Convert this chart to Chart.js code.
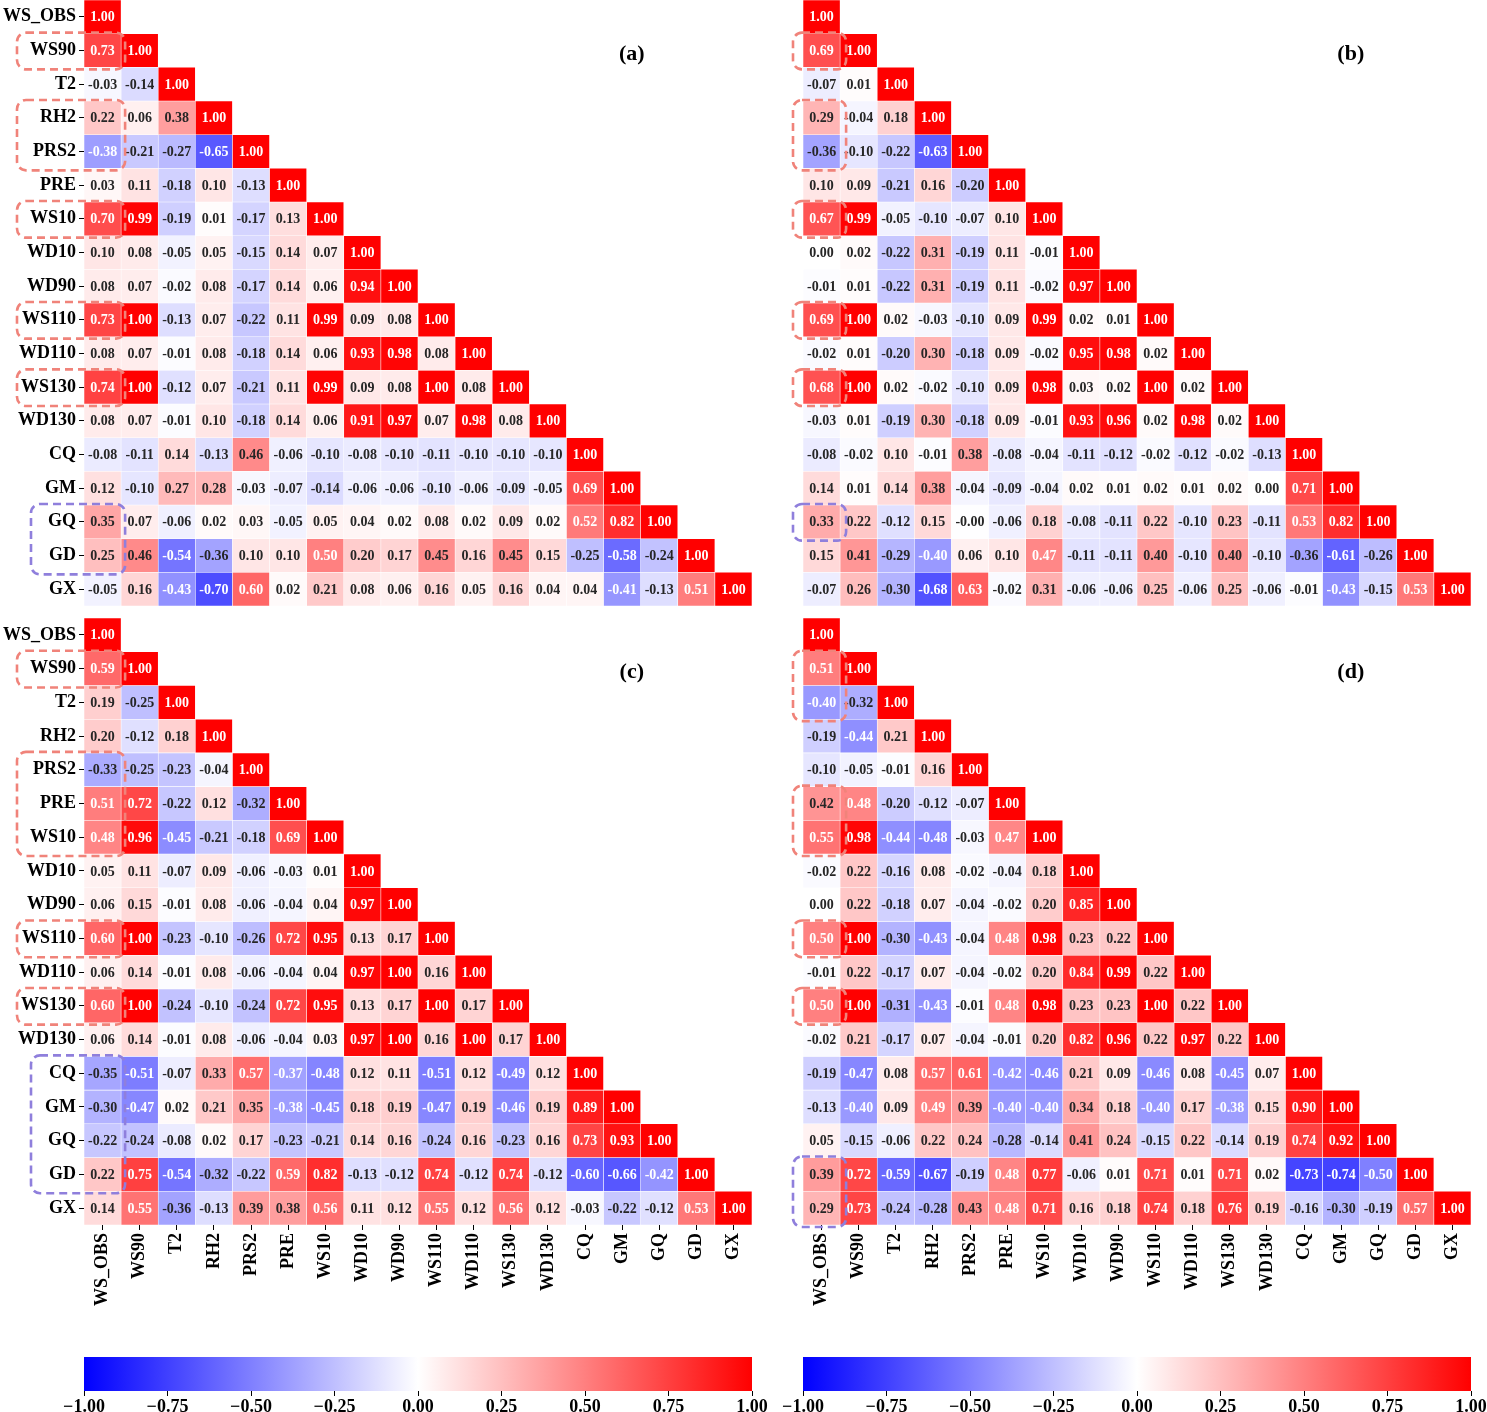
<!DOCTYPE html>
<html>
<head>
<meta charset="utf-8">
<script src="https://cdn.jsdelivr.net/npm/chart.js@4.4.1/dist/chart.umd.min.js"></script>
<style>
  html, body { margin: 0; padding: 0; background: #fff; overflow: hidden; }
  body { width: 1487px; height: 1412px; position: relative; }
  canvas { position: absolute; }
</style>
</head>
<body>
<canvas id="pa" width="760" height="612" style="left:0;top:0"></canvas>
<canvas id="pb" width="727" height="612" style="left:760px;top:0"></canvas>
<canvas id="pc" width="760" height="705" style="left:0;top:612px"></canvas>
<canvas id="pd" width="727" height="705" style="left:760px;top:612px"></canvas>
<canvas id="cbc" width="775" height="62" style="left:0;top:1350px"></canvas>
<canvas id="cbd" width="727" height="62" style="left:760px;top:1350px"></canvas>
<script>
// variable names (rows top to bottom, columns left to right)
const labels = ['WS_OBS', 'WS90', 'T2', 'RH2', 'PRS2', 'PRE', 'WS10', 'WD10', 'WD90',
  'WS110', 'WD110', 'WS130', 'WD130', 'CQ', 'GM', 'GQ', 'GD', 'GX'];

// lower triangles of the correlation matrices
const corrA = [
  [1.00],
  [0.73, 1.00],
  [-0.03, -0.14, 1.00],
  [0.22, 0.06, 0.38, 1.00],
  [-0.38, -0.21, -0.27, -0.65, 1.00],
  [0.03, 0.11, -0.18, 0.10, -0.13, 1.00],
  [0.70, 0.99, -0.19, 0.01, -0.17, 0.13, 1.00],
  [0.10, 0.08, -0.05, 0.05, -0.15, 0.14, 0.07, 1.00],
  [0.08, 0.07, -0.02, 0.08, -0.17, 0.14, 0.06, 0.94, 1.00],
  [0.73, 1.00, -0.13, 0.07, -0.22, 0.11, 0.99, 0.09, 0.08, 1.00],
  [0.08, 0.07, -0.01, 0.08, -0.18, 0.14, 0.06, 0.93, 0.98, 0.08, 1.00],
  [0.74, 1.00, -0.12, 0.07, -0.21, 0.11, 0.99, 0.09, 0.08, 1.00, 0.08, 1.00],
  [0.08, 0.07, -0.01, 0.10, -0.18, 0.14, 0.06, 0.91, 0.97, 0.07, 0.98, 0.08, 1.00],
  [-0.08, -0.11, 0.14, -0.13, 0.46, -0.06, -0.10, -0.08, -0.10, -0.11, -0.10, -0.10, -0.10, 1.00],
  [0.12, -0.10, 0.27, 0.28, -0.03, -0.07, -0.14, -0.06, -0.06, -0.10, -0.06, -0.09, -0.05, 0.69, 1.00],
  [0.35, 0.07, -0.06, 0.02, 0.03, -0.05, 0.05, 0.04, 0.02, 0.08, 0.02, 0.09, 0.02, 0.52, 0.82, 1.00],
  [0.25, 0.46, -0.54, -0.36, 0.10, 0.10, 0.50, 0.20, 0.17, 0.45, 0.16, 0.45, 0.15, -0.25, -0.58, -0.24, 1.00],
  [-0.05, 0.16, -0.43, -0.70, 0.60, 0.02, 0.21, 0.08, 0.06, 0.16, 0.05, 0.16, 0.04, 0.04, -0.41, -0.13, 0.51, 1.00]
];

const corrB = [
  [1.00],
  [0.69, 1.00],
  [-0.07, 0.01, 1.00],
  [0.29, -0.04, 0.18, 1.00],
  [-0.36, -0.10, -0.22, -0.63, 1.00],
  [0.10, 0.09, -0.21, 0.16, -0.20, 1.00],
  [0.67, 0.99, -0.05, -0.10, -0.07, 0.10, 1.00],
  [0.00, 0.02, -0.22, 0.31, -0.19, 0.11, -0.01, 1.00],
  [-0.01, 0.01, -0.22, 0.31, -0.19, 0.11, -0.02, 0.97, 1.00],
  [0.69, 1.00, 0.02, -0.03, -0.10, 0.09, 0.99, 0.02, 0.01, 1.00],
  [-0.02, 0.01, -0.20, 0.30, -0.18, 0.09, -0.02, 0.95, 0.98, 0.02, 1.00],
  [0.68, 1.00, 0.02, -0.02, -0.10, 0.09, 0.98, 0.03, 0.02, 1.00, 0.02, 1.00],
  [-0.03, 0.01, -0.19, 0.30, -0.18, 0.09, -0.01, 0.93, 0.96, 0.02, 0.98, 0.02, 1.00],
  [-0.08, -0.02, 0.10, -0.01, 0.38, -0.08, -0.04, -0.11, -0.12, -0.02, -0.12, -0.02, -0.13, 1.00],
  [0.14, 0.01, 0.14, 0.38, -0.04, -0.09, -0.04, 0.02, 0.01, 0.02, 0.01, 0.02, 0.00, 0.71, 1.00],
  [0.33, 0.22, -0.12, 0.15, -0.004, -0.06, 0.18, -0.08, -0.11, 0.22, -0.10, 0.23, -0.11, 0.53, 0.82, 1.00],
  [0.15, 0.41, -0.29, -0.40, 0.06, 0.10, 0.47, -0.11, -0.11, 0.40, -0.10, 0.40, -0.10, -0.36, -0.61, -0.26, 1.00],
  [-0.07, 0.26, -0.30, -0.68, 0.63, -0.02, 0.31, -0.06, -0.06, 0.25, -0.06, 0.25, -0.06, -0.01, -0.43, -0.15, 0.53, 1.00]
];

const corrC = [
  [1.00],
  [0.59, 1.00],
  [0.19, -0.25, 1.00],
  [0.20, -0.12, 0.18, 1.00],
  [-0.33, -0.25, -0.23, -0.04, 1.00],
  [0.51, 0.72, -0.22, 0.12, -0.32, 1.00],
  [0.48, 0.96, -0.45, -0.21, -0.18, 0.69, 1.00],
  [0.05, 0.11, -0.07, 0.09, -0.06, -0.03, 0.01, 1.00],
  [0.06, 0.15, -0.01, 0.08, -0.06, -0.04, 0.04, 0.97, 1.00],
  [0.60, 1.00, -0.23, -0.10, -0.26, 0.72, 0.95, 0.13, 0.17, 1.00],
  [0.06, 0.14, -0.01, 0.08, -0.06, -0.04, 0.04, 0.97, 1.00, 0.16, 1.00],
  [0.60, 1.00, -0.24, -0.10, -0.24, 0.72, 0.95, 0.13, 0.17, 1.00, 0.17, 1.00],
  [0.06, 0.14, -0.01, 0.08, -0.06, -0.04, 0.03, 0.97, 1.00, 0.16, 1.00, 0.17, 1.00],
  [-0.35, -0.51, -0.07, 0.33, 0.57, -0.37, -0.48, 0.12, 0.11, -0.51, 0.12, -0.49, 0.12, 1.00],
  [-0.30, -0.47, 0.02, 0.21, 0.35, -0.38, -0.45, 0.18, 0.19, -0.47, 0.19, -0.46, 0.19, 0.89, 1.00],
  [-0.22, -0.24, -0.08, 0.02, 0.17, -0.23, -0.21, 0.14, 0.16, -0.24, 0.16, -0.23, 0.16, 0.73, 0.93, 1.00],
  [0.22, 0.75, -0.54, -0.32, -0.22, 0.59, 0.82, -0.13, -0.12, 0.74, -0.12, 0.74, -0.12, -0.60, -0.66, -0.42, 1.00],
  [0.14, 0.55, -0.36, -0.13, 0.39, 0.38, 0.56, 0.11, 0.12, 0.55, 0.12, 0.56, 0.12, -0.03, -0.22, -0.12, 0.53, 1.00]
];

const corrD = [
  [1.00],
  [0.51, 1.00],
  [-0.40, -0.32, 1.00],
  [-0.19, -0.44, 0.21, 1.00],
  [-0.10, -0.05, -0.01, 0.16, 1.00],
  [0.42, 0.48, -0.20, -0.12, -0.07, 1.00],
  [0.55, 0.98, -0.44, -0.48, -0.03, 0.47, 1.00],
  [-0.02, 0.22, -0.16, 0.08, -0.02, -0.04, 0.18, 1.00],
  [0.00, 0.22, -0.18, 0.07, -0.04, -0.02, 0.20, 0.85, 1.00],
  [0.50, 1.00, -0.30, -0.43, -0.04, 0.48, 0.98, 0.23, 0.22, 1.00],
  [-0.01, 0.22, -0.17, 0.07, -0.04, -0.02, 0.20, 0.84, 0.99, 0.22, 1.00],
  [0.50, 1.00, -0.31, -0.43, -0.01, 0.48, 0.98, 0.23, 0.23, 1.00, 0.22, 1.00],
  [-0.02, 0.21, -0.17, 0.07, -0.04, -0.01, 0.20, 0.82, 0.96, 0.22, 0.97, 0.22, 1.00],
  [-0.19, -0.47, 0.08, 0.57, 0.61, -0.42, -0.46, 0.21, 0.09, -0.46, 0.08, -0.45, 0.07, 1.00],
  [-0.13, -0.40, 0.09, 0.49, 0.39, -0.40, -0.40, 0.34, 0.18, -0.40, 0.17, -0.38, 0.15, 0.90, 1.00],
  [0.05, -0.15, -0.06, 0.22, 0.24, -0.28, -0.14, 0.41, 0.24, -0.15, 0.22, -0.14, 0.19, 0.74, 0.92, 1.00],
  [0.39, 0.72, -0.59, -0.67, -0.19, 0.48, 0.77, -0.06, 0.01, 0.71, 0.01, 0.71, 0.02, -0.73, -0.74, -0.50, 1.00],
  [0.29, 0.73, -0.24, -0.28, 0.43, 0.48, 0.71, 0.16, 0.18, 0.74, 0.18, 0.76, 0.19, -0.16, -0.30, -0.19, 0.57, 1.00]
];

// highlighted row groups: [first row, last row, group]
const boxesA = [[1, 1, 'pos'], [3, 4, 'pos'], [6, 6, 'pos'], [9, 9, 'pos'], [11, 11, 'pos'], [15, 16, 'alt']];
const boxesB = [[1, 1, 'pos'], [3, 4, 'pos'], [6, 6, 'pos'], [9, 9, 'pos'], [11, 11, 'pos'], [15, 15, 'alt']];
const boxesC = [[1, 1, 'pos'], [4, 6, 'pos'], [9, 9, 'pos'], [11, 11, 'pos'], [13, 16, 'alt']];
const boxesD = [[1, 2, 'pos'], [5, 6, 'pos'], [9, 9, 'pos'], [11, 11, 'pos'], [16, 17, 'alt']];

const cbarTicks = [-1, -0.75, -0.5, -0.25, 0, 0.25, 0.5, 0.75, 1];

const SERIF = "'Liberation Serif', 'Times New Roman', 'DejaVu Serif', serif";
Chart.defaults.font.family = SERIF;
Chart.defaults.color = '#000';
Chart.defaults.animation = false;

// blue-white-red colormap
function bwr(v) {
  if (v < 0) { const t = 1 + v; return [t, t, 1]; }
  return [1, 1 - v, 1 - v];
}
function rgbStr(c) {
  return 'rgb(' + c.map(x => Math.round(x * 255)).join(',') + ')';
}
function textColor(v) {
  const lin = bwr(v).map(c => c <= 0.03928 ? c / 12.92 : Math.pow((c + 0.055) / 1.055, 2.4));
  const lum = 0.2126 * lin[0] + 0.7152 * lin[1] + 0.0722 * lin[2];
  return lum > 0.408 ? '#262626' : '#ffffff';
}

function makePanel(id, corr, boxes, tag, left, bottomAxis) {
  const overlay = {
    id: 'overlay',
    afterDatasetsDraw(chart) {
      const ctx = chart.ctx;
      ctx.save();
      ctx.font = 'bold 14px ' + SERIF;
      ctx.textAlign = 'center';
      ctx.textBaseline = 'middle';
      chart.data.datasets.forEach((ds, i) => {
        chart.getDatasetMeta(i).data.forEach((el, j) => {
          const v = ds.values[j];
          ctx.fillStyle = textColor(v);
          ctx.fillText(v.toFixed(2), el.x, (el.y + el.base) / 2 + 1);
        });
      });
      ctx.restore();
    },
    afterDraw(chart) {
      const ctx = chart.ctx;
      const ca = chart.chartArea;
      const xs = chart.scales.x, ys = chart.scales.y;
      const cellW = xs.getPixelForValue(1) - xs.getPixelForValue(0);
      const colRight = xs.getPixelForValue(0) + cellW / 2;
      ctx.save();
      ctx.lineWidth = 2.6;
      ctx.setLineDash([8, 5]);
      boxes.forEach(([r0, r1, kind]) => {
        const top = ys.getPixelForValue(r0 - 0.5) - 1;
        const bot = ys.getPixelForValue(r1 + 0.5) + 2;
        let x0;
        if (left) x0 = kind === 'pos' ? ca.left - 67 : ca.left - 53;
        else x0 = ca.left - 10;
        const x1 = colRight + (left ? 4 : 6);
        ctx.strokeStyle = kind === 'pos' ? '#f0837a' : '#8f7fdc';
        ctx.beginPath();
        ctx.roundRect(x0, top, x1 - x0, bot - top, 9);
        ctx.stroke();
      });
      ctx.restore();
      ctx.save();
      ctx.font = 'bold 22px ' + SERIF;
      ctx.fillStyle = '#000';
      ctx.textAlign = 'center';
      ctx.textBaseline = 'middle';
      ctx.fillText(tag, ca.left + 0.82 * (ca.right - ca.left), ca.top + 0.09 * (ca.bottom - ca.top));
      ctx.restore();
    }
  };

  const datasets = corr.map((row, i) => ({
    data: row.map(() => [i - 0.5, i + 0.5]),
    values: row,
    backgroundColor: row.map(v => rgbStr(bwr(v))),
    borderColor: 'rgba(255,255,255,0.35)',
    borderWidth: 0.6,
    borderSkipped: false,
    grouped: false,
    barPercentage: 1,
    categoryPercentage: 1
  }));

  const pad = left ? { left: 0, right: 8, top: bottomAxis ? 6 : 0, bottom: bottomAxis ? 0 : 6 }
                   : { left: 43, right: 16, top: bottomAxis ? 6 : 0, bottom: bottomAxis ? 0 : 6 };

  return new Chart(document.getElementById(id), {
    type: 'bar',
    data: { labels: labels, datasets: datasets },
    options: {
      responsive: false,
      animation: false,
      layout: { padding: pad },
      plugins: { legend: { display: false }, tooltip: { enabled: false } },
      scales: {
        x: {
          type: 'category',
          offset: true,
          display: bottomAxis,
          afterFit: s => { s.height = bottomAxis ? 92 : 0; s.paddingLeft = 0; s.paddingRight = 0; },
          ticks: { font: { size: 18, weight: 'bold' }, color: '#000', minRotation: 90, maxRotation: 90, padding: 3, autoSkip: false },
          grid: { drawOnChartArea: false, offset: false, tickLength: 5, tickColor: '#000', tickWidth: 1 },
          border: { display: false }
        },
        y: {
          type: 'linear',
          reverse: true,
          min: -0.5,
          max: labels.length - 0.5,
          display: left,
          afterBuildTicks: s => { s.ticks = labels.map((_, i) => ({ value: i })); },
          afterFit: s => { s.width = left ? 84 : 0; s.paddingTop = 0; s.paddingBottom = 0; },
          ticks: { callback: v => labels[v], font: { size: 18, weight: 'bold' }, color: '#000', padding: 3, autoSkip: false },
          grid: { drawOnChartArea: false, tickLength: 5, tickColor: '#000', tickWidth: 1 },
          border: { display: false }
        }
      }
    },
    plugins: [overlay]
  });
}

function makeCbar(id, pad) {
  return new Chart(document.getElementById(id), {
    type: 'bar',
    data: {
      labels: [''],
      datasets: [{
        data: [[cbarTicks[0], cbarTicks[cbarTicks.length - 1]]],
        backgroundColor: c => {
          const ca = c.chart.chartArea;
          if (!ca) return 'rgba(0,0,0,0)';
          const g = c.chart.ctx.createLinearGradient(ca.left, 0, ca.right, 0);
          g.addColorStop(0, rgbStr(bwr(-1)));
          g.addColorStop(0.5, rgbStr(bwr(0)));
          g.addColorStop(1, rgbStr(bwr(1)));
          return g;
        },
        borderWidth: 0,
        barPercentage: 1,
        categoryPercentage: 1
      }]
    },
    options: {
      indexAxis: 'y',
      responsive: false,
      animation: false,
      layout: { padding: pad },
      plugins: { legend: { display: false }, tooltip: { enabled: false } },
      scales: {
        x: {
          type: 'linear',
          min: cbarTicks[0],
          max: cbarTicks[cbarTicks.length - 1],
          afterBuildTicks: s => { s.ticks = cbarTicks.map(v => ({ value: v })); },
          afterFit: s => { s.height = 21; s.paddingLeft = 0; s.paddingRight = 0; },
          ticks: { callback: v => v.toFixed(2).replace('-', '\u2212'), font: { size: 18, weight: 'bold' }, color: '#000', padding: 1, maxRotation: 0, autoSkip: false },
          grid: { drawOnChartArea: false, tickLength: 5, tickColor: '#000', tickWidth: 1 },
          border: { display: false }
        },
        y: { display: false }
      }
    }
  });
}

makePanel('pa', corrA, boxesA, '(a)', true, false);
makePanel('pb', corrB, boxesB, '(b)', false, false);
makePanel('pc', corrC, boxesC, '(c)', true, true);
makePanel('pd', corrD, boxesD, '(d)', false, true);
makeCbar('cbc', { left: 84, right: 23, top: 7, bottom: 0 });
makeCbar('cbd', { left: 43, right: 16, top: 7, bottom: 0 });
</script>
</body>
</html>
